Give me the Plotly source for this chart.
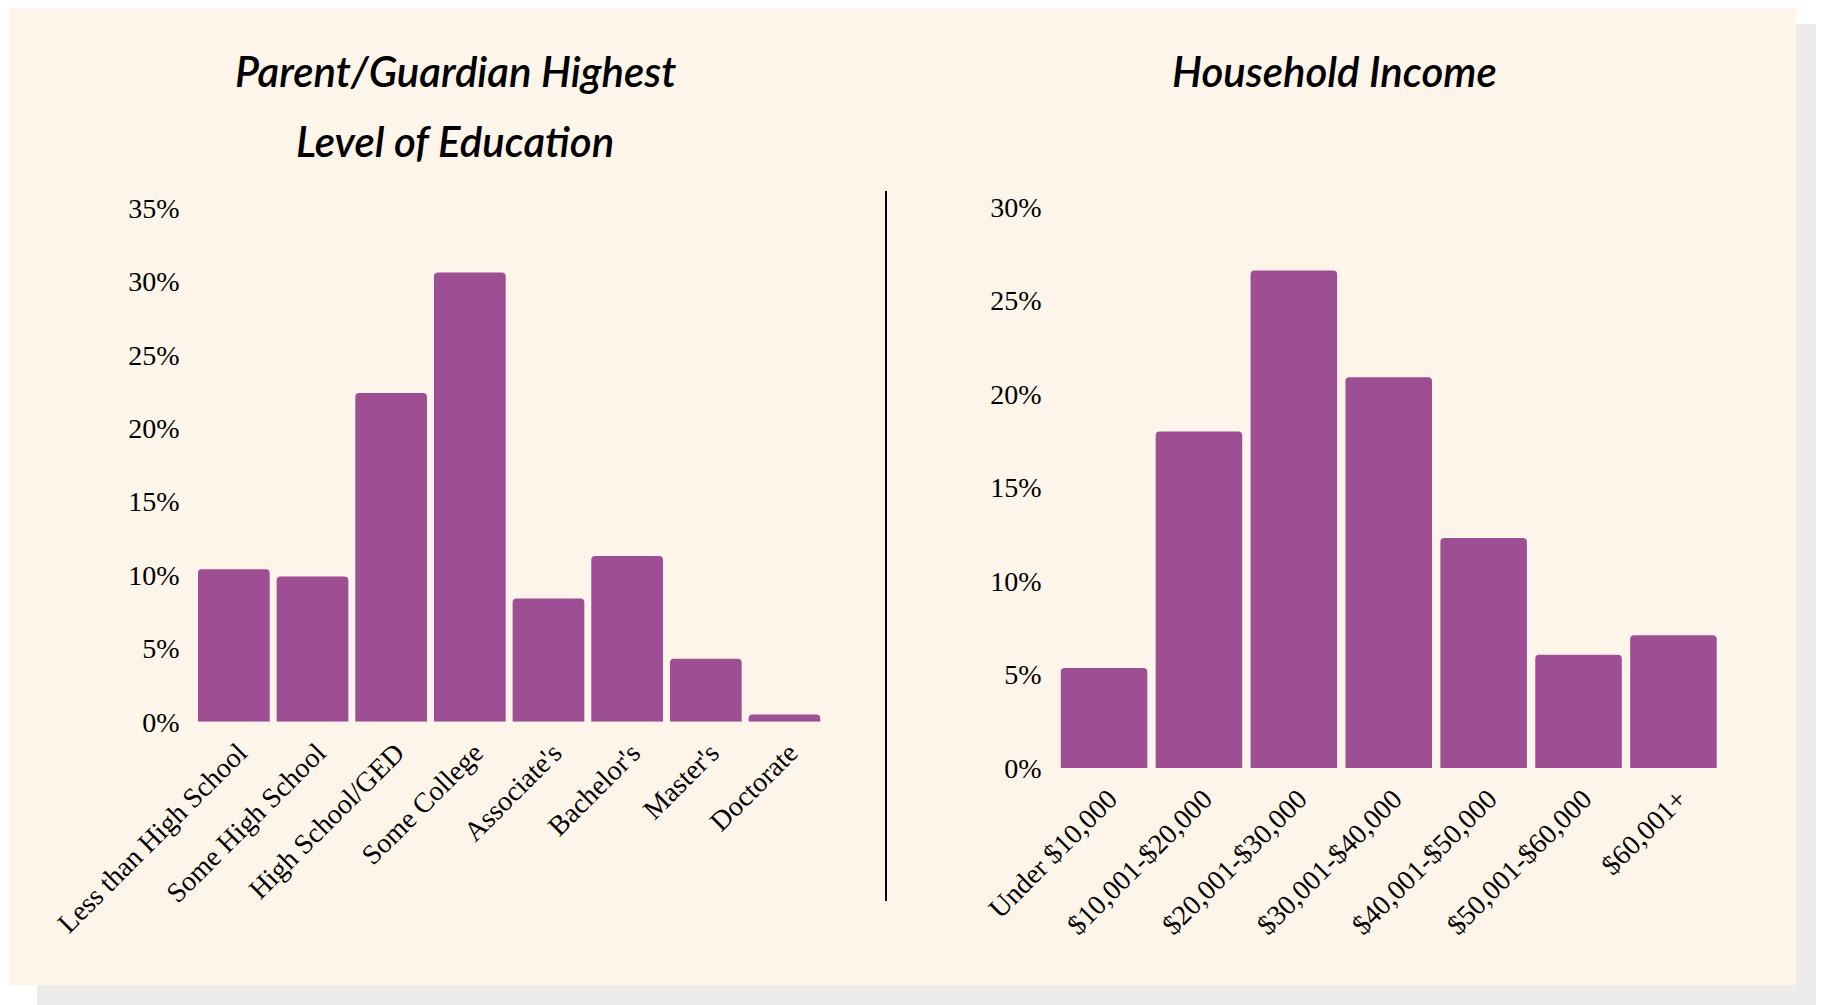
import plotly.graph_objects as go

W, H = 1824, 1005
OFF = 8  # browser body margin

edu_labels = ["Less than High School", "Some High School", "High School/GED", "Some College",
              "Associate's", "Bachelor's", "Master's", "Doctorate"]
edu_values = [10.4, 9.9, 22.4, 30.6, 8.4, 11.3, 4.3, 0.5]
edu_ticks = [0, 5, 10, 15, 20, 25, 30, 35]

inc_labels = ["Under $10,000", "$10,001-$20,000", "$20,001-$30,000", "$30,001-$40,000",
              "$40,001-$50,000", "$50,001-$60,000", "$60,001+"]
inc_values = [5.35, 18.0, 26.6, 20.9, 12.3, 6.05, 7.1]
inc_ticks = [0, 5, 10, 15, 20, 25, 30]

PURPLE = "#9E4E93"
CREAM = "#FDF5E9"
SERIF = "Liberation Serif, Times New Roman, serif"
TITLE_FONT = dict(family="Lato, Open Sans, sans-serif", size=42, color="black", style="italic", weight=600)


def px(x):
    return (x - OFF) / W


def py(y):
    return 1 - (y - OFF) / H


fig = go.Figure()
fig.add_trace(go.Bar(x=edu_labels, y=edu_values, xaxis="x", yaxis="y",
                     marker=dict(color=PURPLE, cornerradius=4, line_width=0),
                     hovertemplate="%{x}: %{y}%<extra></extra>"))
fig.add_trace(go.Bar(x=inc_labels, y=inc_values, xaxis="x2", yaxis="y2",
                     marker=dict(color=PURPLE, cornerradius=4, line_width=0),
                     hovertemplate="%{x}: %{y}%<extra></extra>"))

tickfont = dict(family=SERIF, size=28, color="black")

common_x = dict(tickangle=-45, tickfont=tickfont, showgrid=False, zeroline=False,
                showline=False, ticks="", automargin=False, fixedrange=True,
                ticklabelstandoff=8, ticklabelshift=5)
common_y = dict(tickfont=tickfont, showgrid=False, zeroline=False, showline=False,
                ticks="", automargin=False, fixedrange=True, tickmode="array",
                ticklabelstandoff=14)

fig.update_layout(
    width=W, height=H, autosize=False,
    margin=dict(l=0, r=0, t=0, b=0),
    paper_bgcolor="white", plot_bgcolor="rgba(0,0,0,0)",
    showlegend=False, bargap=0.088,
    xaxis=dict(domain=[px(194.5), px(823.8)], anchor="y", **common_x),
    yaxis=dict(domain=[py(721.8), py(208)], anchor="x", range=[0, 35],
               tickvals=edu_ticks, ticktext=[f"{v}%" for v in edu_ticks], **common_y),
    xaxis2=dict(domain=[px(1056.6), px(1720.9)], anchor="y2", **common_x),
    yaxis2=dict(domain=[py(768), py(207)], anchor="x2", range=[0, 30],
                tickvals=inc_ticks, ticktext=[f"{v}%" for v in inc_ticks], **common_y),
    shapes=[
        dict(type="rect", xref="paper", yref="paper", x0=px(37), x1=px(1840), y0=py(24), y1=py(1020),
             fillcolor="#EBEBEB", line_width=0, layer="below"),
        dict(type="rect", xref="paper", yref="paper", x0=px(9), x1=px(1796), y0=py(5), y1=py(985),
             fillcolor=CREAM, line_width=0, layer="below"),
        dict(type="line", xref="paper", yref="paper", x0=px(886), x1=px(886), y0=py(191), y1=py(901),
             line=dict(color="black", width=2)),
    ],
    annotations=[
        dict(text="Parent/Guardian Highest", x=px(455), y=py(71), xref="paper", yref="paper",
             showarrow=False, font=TITLE_FONT, xanchor="center", yanchor="middle"),
        dict(text="Level of Education", x=px(455), y=py(141), xref="paper", yref="paper",
             showarrow=False, font=TITLE_FONT, xanchor="center", yanchor="middle"),
        dict(text="Household Income", x=px(1334), y=py(71), xref="paper", yref="paper",
             showarrow=False, font=TITLE_FONT, xanchor="center", yanchor="middle"),
    ],
)

fig.write_html("out.html", config={"displayModeBar": False})
